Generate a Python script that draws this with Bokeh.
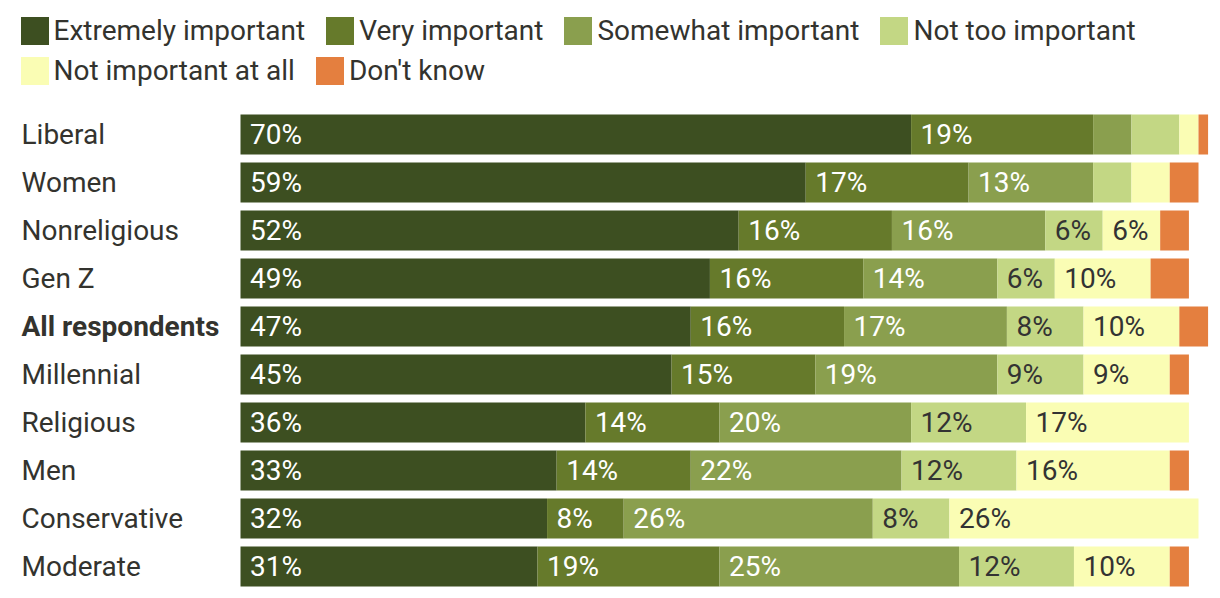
from bokeh.plotting import figure
from bokeh.models import Range1d, ColumnDataSource, Legend, LegendItem
from bokeh.core.properties import value
from bokeh.embed import file_html
from bokeh.resources import INLINE

categories = ["Liberal", "Women", "Nonreligious", "Gen Z", "All respondents",
              "Millennial", "Religious", "Men", "Conservative", "Moderate"]
series_names = ["Extremely important", "Very important", "Somewhat important",
                "Not too important", "Not important at all", "Don't know"]
extremely = [70, 59, 52, 49, 47, 45, 36, 33, 32, 31]
very = [19, 17, 16, 16, 16, 15, 14, 14, 8, 19]
somewhat = [4, 13, 16, 14, 17, 19, 20, 22, 26, 25]
not_too = [5, 4, 6, 6, 8, 9, 12, 12, 8, 12]
not_at_all = [2, 4, 6, 10, 10, 9, 17, 16, 26, 10]
dont_know = [1, 3, 3, 4, 3, 2, 0, 2, 0, 2]

colors = ["#3d4f21", "#667a2b", "#8a9f4e", "#c3d784", "#fafdb4", "#e47f3f"]
label_colors = ["#ffffff", "#ffffff", "#ffffff", "#333333", "#333333", "#333333"]
FONT = "Roboto"
FS = "28px"

W, H = 1214, 590
PX_PER_PCT = 9.58
LEFT_PX = 240
ROW_PX = 48
TOP_PX = 134

x_start = -LEFT_PX / PX_PER_PCT
x_end = (W - LEFT_PX) / PX_PER_PCT
y_top = -TOP_PX / ROW_PX
y_bottom = (H - TOP_PX) / ROW_PX

p = figure(width=W, height=H, output_backend="svg", toolbar_location=None,
           x_range=Range1d(x_start, x_end), y_range=Range1d(y_bottom, y_top),
           x_axis_location=None, y_axis_location=None, min_border=0,
           outline_line_color=None, background_fill_color="white")
p.xgrid.visible = False
p.ygrid.visible = False

values = [extremely, very, somewhat, not_too, not_at_all, dont_know]
keys = ["s%d" % i for i in range(len(values))]
data = {"y": list(range(len(categories))), "cat": categories}
for k, v in zip(keys, values):
    data[k] = v
source = ColumnDataSource(data)

renderers = p.hbar_stack(keys, y="y", height=40 / ROW_PX, color=colors,
                         line_color=None, source=source)

# segment labels
lx, ly, lt, lc = [], [], [], []
cum = [0] * len(categories)
for k, v in enumerate(values):
    for i, val in enumerate(v):
        if val >= 6:
            lx.append(cum[i])
            ly.append(i)
            lt.append("%d%%" % val)
            lc.append(label_colors[k])
        cum[i] += val
p.text(x=lx, y=ly, text=lt, text_color=lc, x_offset=9.5, text_baseline="middle",
       text_align="left", text_font=value(FONT), text_font_size=FS)

# category labels
styles = ["bold" if c == "All respondents" else "normal" for c in categories]
p.text(x=[x_start] * len(categories), y=list(range(len(categories))), text=categories,
       text_font_style=styles, x_offset=21, text_baseline="middle", text_align="left",
       text_font=value(FONT), text_font_size=FS, text_color="#33332e")

GB = 35  # legend glyph box (area glyph is inset 10% -> 28px swatch)

def make_legend(idx, loc):
    items = [LegendItem(label=series_names[i], renderers=[renderers[i]]) for i in idx]
    leg = Legend(items=items, location=loc, orientation="horizontal",
                 glyph_width=GB, glyph_height=GB, label_standoff=2, spacing=17,
                 padding=0, margin=0, border_line_color=None, background_fill_alpha=0,
                 label_text_font=FONT, label_text_font_size=FS,
                 label_text_color="#33332e", label_height=GB)
    p.add_layout(leg, "center")

make_legend([0, 1, 2, 3], (16.5, H - 12.5 - GB))
make_legend([4, 5], (16.5, H - 52.5 - GB))

open("out.html", "w").write(file_html(p, INLINE))
